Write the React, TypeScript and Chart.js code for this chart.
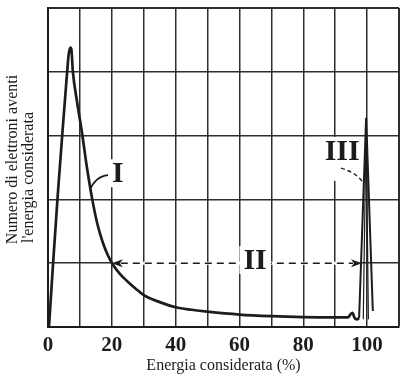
import React, { useEffect, useRef } from 'react';
import { Chart, registerables } from 'chart.js';

Chart.register(...registerables);

// ---- data (energy in %, electron count in grid units) ----
const curveEnergy = [0.3, 1.6, 3.1, 4.6, 6.0, 6.5, 7.0, 7.3, 7.8, 9.1, 10.7, 12.2, 13.8, 15.4, 17.2, 18.8, 20.3, 22.6, 25, 27.5, 30, 35, 40, 45, 50, 60, 70, 80, 90, 94, 94.8, 95.4, 96.1, 96.8, 97.5];
const curveCount = [0, 1.0, 2.1, 3.1, 4.0, 4.28, 4.38, 4.36, 4.0, 3.53, 3.03, 2.5, 2.02, 1.63, 1.32, 1.12, 0.98, 0.83, 0.71, 0.6, 0.5, 0.39, 0.31, 0.27, 0.24, 0.195, 0.17, 0.155, 0.15, 0.15, 0.2, 0.22, 0.14, 0.12, 0.14];

const spikeEnergy = [97.5, 99.7, 101.8];
const spikeCount = [0.14, 3.28, 0.25];
const spike2Energy = [98.8, 99.7, 100.4];
const spike2Count = [0.12, 3.2, 0.12];

const xTickLabels = [0, 20, 40, 60, 80, 100];

// annotations (data units)
const romanLabels = ['I', 'II', 'III'];
const labelEnergy = [21.9, 64.9, 92.2];
const labelCount = [2.41, 1.05, 2.76];
const arrowLevel = 1.0;
const arrowFrom = 20;
const arrowTo = 98.4;
const leaderI = [[13.1, 2.14], [14.8, 2.36], [18.8, 2.38]];
const leaderIII = [[91.8, 2.49], [96.5, 2.42], [98.5, 2.28]];

const INK = '#1c1c1c';
const GRID = '#2e2e2e';

const annotationPlugin = {
  id: 'annotations',
  beforeDatasetsDraw(chart: any) {
    const { ctx, scales } = chart;
    const x = scales.x;
    const y = scales.y;
    ctx.save();
    const ay = y.getPixelForValue(arrowLevel);
    const ax1 = x.getPixelForValue(arrowFrom);
    const ax2 = x.getPixelForValue(arrowTo);
    // erase grid line under the dashed arrow
    ctx.strokeStyle = '#ffffff';
    ctx.lineWidth = 3;
    ctx.beginPath();
    ctx.moveTo(ax1 + 1, ay);
    ctx.lineTo(ax2 - 1, ay);
    ctx.stroke();
    // dashed line
    ctx.strokeStyle = INK;
    ctx.lineWidth = 1.6;
    ctx.setLineDash([7, 5]);
    ctx.beginPath();
    ctx.moveTo(ax1 + 9, ay);
    ctx.lineTo(ax2 - 9, ay);
    ctx.stroke();
    ctx.setLineDash([]);
    const head = (px: number, dir: number) => {
      ctx.fillStyle = INK;
      ctx.beginPath();
      ctx.moveTo(px, ay);
      ctx.lineTo(px - dir * 11, ay - 4);
      ctx.lineTo(px - dir * 8, ay);
      ctx.lineTo(px - dir * 11, ay + 4);
      ctx.closePath();
      ctx.fill();
    };
    head(ax1, -1);
    head(ax2, 1);

    // labels
    ctx.font = 'bold 30px "Liberation Serif"';
    ctx.textAlign = 'center';
    ctx.textBaseline = 'middle';
    romanLabels.forEach((t, i) => {
      const px = x.getPixelForValue(labelEnergy[i]);
      const py = y.getPixelForValue(labelCount[i]);
      const w = ctx.measureText(t).width;
      ctx.fillStyle = '#ffffff';
      const extra = t === 'III' ? 16 : 0;
      ctx.fillRect(px - w / 2 - 4, py - 14, w + 8, 28 + extra);
      ctx.fillStyle = INK;
      ctx.fillText(t, px, py + 1);
    });

    // leader for I
    const p = (pt: number[]) => [x.getPixelForValue(pt[0]), y.getPixelForValue(pt[1])];
    ctx.strokeStyle = INK;
    ctx.lineWidth = 1.8;
    let a = p(leaderI[0]), c = p(leaderI[1]), b = p(leaderI[2]);
    ctx.beginPath();
    ctx.moveTo(a[0], a[1]);
    ctx.quadraticCurveTo(c[0], c[1], b[0], b[1]);
    ctx.stroke();
    // leader for III (dashed)
    a = p(leaderIII[0]); c = p(leaderIII[1]); b = p(leaderIII[2]);
    ctx.setLineDash([4, 3]);
    ctx.lineWidth = 1.4;
    ctx.beginPath();
    ctx.moveTo(a[0], a[1]);
    ctx.quadraticCurveTo(c[0], c[1], b[0], b[1]);
    ctx.stroke();
    ctx.setLineDash([]);
    ctx.restore();
  },
};

export default function App() {
  const ref = useRef<HTMLCanvasElement | null>(null);
  useEffect(() => {
    if (!ref.current) return;
    const toXY = (xs: number[], ys: number[]) => xs.map((v, i) => ({ x: v, y: ys[i] }));
    const chart = new Chart(ref.current, {
      type: 'line',
      data: {
        datasets: [
          {
            data: toXY(curveEnergy, curveCount),
            borderColor: INK,
            borderWidth: 2.7,
            pointRadius: 0,
            fill: false,
            cubicInterpolationMode: 'monotone',
          },
          {
            data: toXY(spikeEnergy, spikeCount),
            borderColor: INK,
            borderWidth: 2,
            pointRadius: 0,
            fill: false,
            tension: 0,
          },
          {
            data: toXY(spike2Energy, spike2Count),
            borderColor: INK,
            borderWidth: 1.2,
            pointRadius: 0,
            fill: false,
            tension: 0,
          },
        ],
      },
      options: {
        responsive: false,
        animation: false,
        events: [],
        layout: { padding: { top: 8, right: 13, bottom: 0, left: 0 } },
        plugins: { legend: { display: false }, tooltip: { enabled: false } },
        scales: {
          x: {
            type: 'linear',
            min: 0,
            max: 110,
            afterFit: (s: any) => { s.height = 52; },
            grid: {
              color: GRID,
              lineWidth: (c: any) => (c.tick && c.tick.value === 110 ? 2 : 1.5),
              drawTicks: false,
            },
            border: { display: true, color: INK, width: 2 },
            ticks: {
              stepSize: 10,
              autoSkip: false,
              maxRotation: 0,
              padding: 6,
              color: INK,
              font: { family: '"Liberation Serif"', size: 21, weight: 'bold' },
              callback: (v: any) => (xTickLabels.includes(Number(v)) ? String(v) : ''),
            },
            title: {
              display: true,
              text: 'Energia considerata (%)',
              color: INK,
              font: { family: '"Liberation Serif"', size: 16, lineHeight: 1.2 },
              padding: { top: 0, bottom: 4 },
            },
          },
          y: {
            type: 'linear',
            min: 0,
            max: 5,
            afterFit: (s: any) => { s.width = 48; },
            grid: {
              color: GRID,
              lineWidth: (c: any) => (c.tick && c.tick.value === 5 ? 2 : 1.5),
              drawTicks: false,
            },
            border: { display: true, color: INK, width: 2 },
            ticks: { stepSize: 1, display: false },
            title: {
              display: true,
              text: ['    Numero di elettroni aventi', "l'energia considerata     "],
              color: INK,
              font: { family: '"Liberation Serif"', size: 16, lineHeight: 1.0 },
              padding: { top: 5, bottom: 0 },
            },
          },
        },
      } as any,
      plugins: [annotationPlugin],
    });
    return () => chart.destroy();
  }, []);
  return (
    <div style={{ position: 'fixed', left: 0, top: 0, width: 412, height: 379, background: '#ffffff' }}>
      <canvas ref={ref} width={412} height={379} style={{ display: 'block' }} />
    </div>
  );
}
